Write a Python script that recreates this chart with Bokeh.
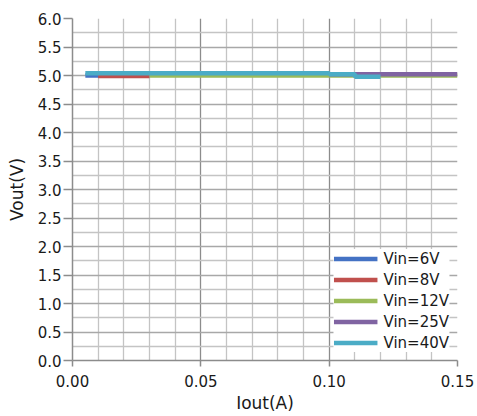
from bokeh.plotting import figure
from bokeh.models import FixedTicker, PrintfTickFormatter, Legend, LegendItem, Range1d
from bokeh.embed import file_html
from bokeh.resources import INLINE

# Data
x_6v = [0.005, 0.01, 0.02, 0.03]
y_6v = [5.00, 5.00, 5.00, 5.00]
x_8v = [0.01, 0.02, 0.03]
y_8v = [4.99, 4.99, 4.99]
x_12v = [0.03, 0.05, 0.07, 0.09, 0.11, 0.13, 0.15]
y_12v = [5.00, 5.00, 5.00, 5.00, 5.00, 5.00, 5.00]
x_25v = [0.10, 0.11, 0.12, 0.13, 0.14, 0.15]
y_25v = [5.02, 5.02, 5.02, 5.02, 5.02, 5.02]
x_40v = [0.005, 0.01, 0.02, 0.03, 0.04, 0.05, 0.06, 0.07, 0.08, 0.09, 0.10, 0.1001, 0.11, 0.1101, 0.12]
y_40v = [5.04, 5.04, 5.04, 5.04, 5.04, 5.04, 5.04, 5.04, 5.04, 5.04, 5.04, 5.02, 5.02, 4.98, 4.98]

x_ticks = [0.00, 0.05, 0.10, 0.15]
x_minor = [0.01, 0.02, 0.03, 0.04, 0.06, 0.07, 0.08, 0.09, 0.11, 0.12, 0.13, 0.14]
y_ticks = [0.0, 0.5, 1.0, 1.5, 2.0, 2.5, 3.0, 3.5, 4.0, 4.5, 5.0, 5.5, 6.0]
y_minor = [0.25, 0.75, 1.25, 1.75, 2.25, 2.75, 3.25, 3.75, 4.25, 4.75, 5.25, 5.75]

series = [
    ("Vin=6V", x_6v, y_6v, "#4472C4"),
    ("Vin=8V", x_8v, y_8v, "#C0504D"),
    ("Vin=12V", x_12v, y_12v, "#9BBB59"),
    ("Vin=25V", x_25v, y_25v, "#8064A2"),
    ("Vin=40V", x_40v, y_40v, "#4BACC6"),
]

FONT = "DejaVu Sans"

p = figure(width=477, height=416, output_backend="svg", toolbar_location=None,
           x_range=Range1d(0, 0.15), y_range=Range1d(0, 6.0),
           min_border_left=72, min_border_right=20, min_border_top=18, min_border_bottom=56)
p.outline_line_color = None
p.background_fill_color = "white"

p.xaxis.ticker = FixedTicker(ticks=x_ticks, minor_ticks=x_minor)
p.yaxis.ticker = FixedTicker(ticks=y_ticks, minor_ticks=y_minor)
p.xaxis.formatter = PrintfTickFormatter(format="%.2f")
p.yaxis.formatter = PrintfTickFormatter(format="%.1f")

for ax in (p.xaxis, p.yaxis):
    ax.axis_line_color = "#8c8c8c"
    ax.axis_line_width = 1.5
    ax.major_tick_line_color = "#8c8c8c"
    ax.major_tick_line_width = 1.5
    ax.major_tick_in = 0
    ax.minor_tick_line_color = None
    ax.major_label_text_font = FONT
    ax.major_label_text_font_size = "15px"
    ax.major_label_text_color = "#1a1a1a"
    ax.axis_label_text_font = FONT
    ax.axis_label_text_font_style = "normal"
    ax.axis_label_text_color = "#1a1a1a"
    ax.axis_label_text_font_size = "17px"

p.xaxis.major_tick_out = 6
p.yaxis.major_tick_out = 9
p.xaxis.axis_label = "Iout(A)"
p.xaxis.axis_label_standoff = 3
p.xaxis.major_label_standoff = 8
p.yaxis.axis_label = "Vout(V)"
p.yaxis.axis_label_standoff = 8
p.yaxis.major_label_standoff = 2

p.xgrid.grid_line_color = "#8c8c8c"
p.xgrid.grid_line_width = 1.3
p.xgrid.minor_grid_line_color = "#c4c4c4"
p.xgrid.minor_grid_line_width = 1.3
p.ygrid.grid_line_color = "#a8a8a8"
p.ygrid.grid_line_width = 1.3
p.ygrid.minor_grid_line_color = "#c4c4c4"
p.ygrid.minor_grid_line_width = 1.3

items = []
for name, xs, ys, c in series:
    r = p.line(xs, ys, line_color=c, line_width=4.5)
    items.append(LegendItem(label=name, renderers=[r]))

legend = Legend(items=items, location="bottom_right",
                label_text_font=FONT, label_text_font_size="15px", label_text_color="#1a1a1a",
                glyph_width=44, glyph_height=19, label_height=19, spacing=2, padding=4, margin=8,
                label_standoff=6, border_line_color=None,
                background_fill_color="white", background_fill_alpha=1.0)
p.add_layout(legend)

open("out.html", "w").write(file_html(p, INLINE))
